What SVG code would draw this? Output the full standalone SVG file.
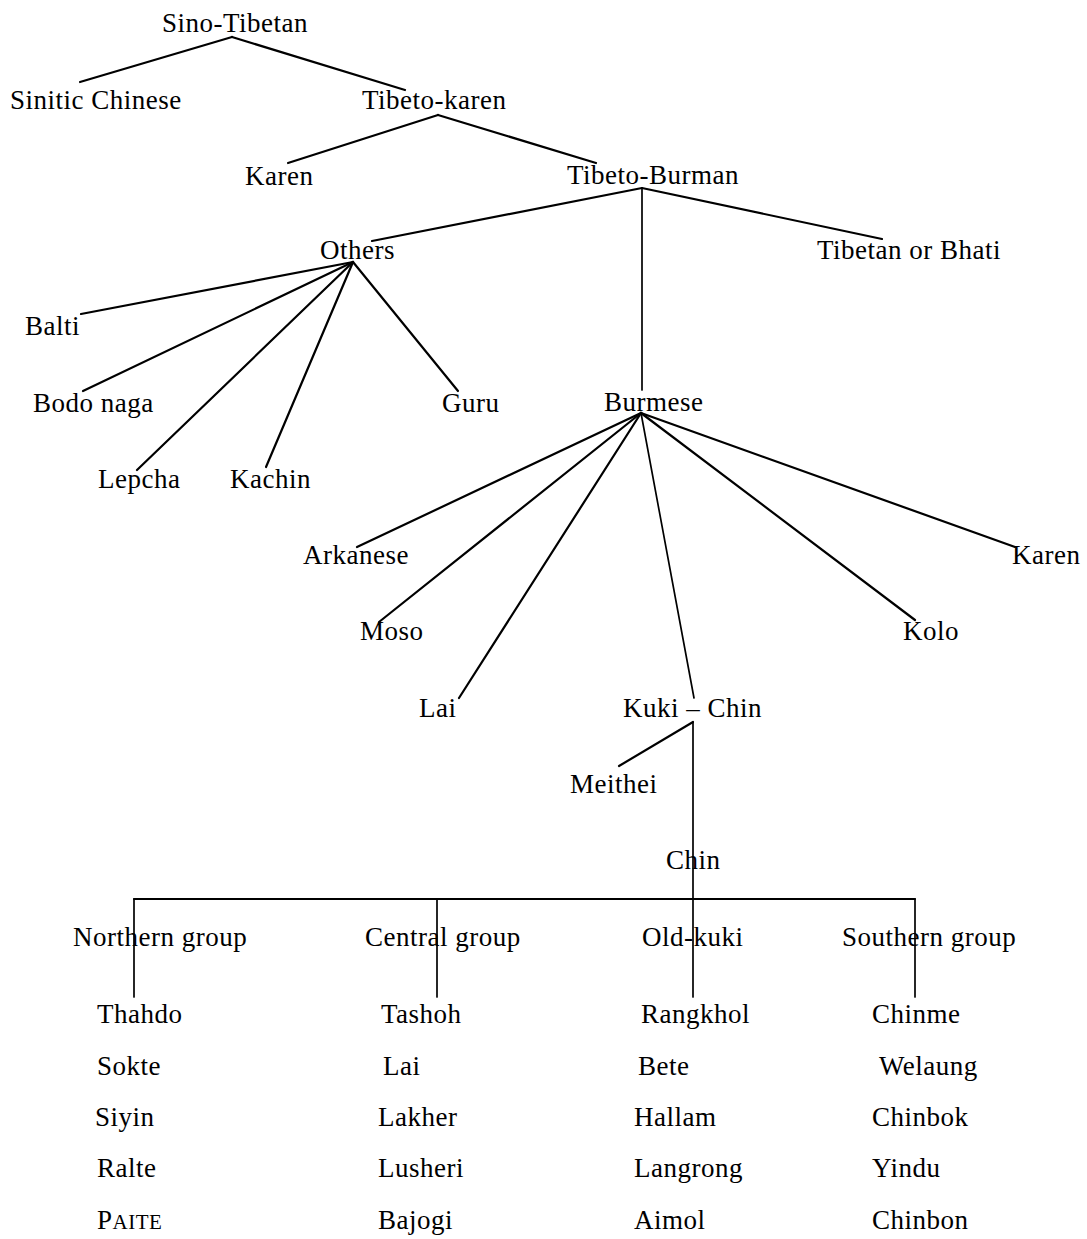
<svg xmlns="http://www.w3.org/2000/svg" width="1087" height="1239" viewBox="0 0 1087 1239">
<style>
text{font-family:"Liberation Serif","Times New Roman",serif;font-size:27px;letter-spacing:0.5px;fill:#000}
.c line{stroke:#000;stroke-width:2.2;stroke-linecap:round}
.c line.t{stroke-width:1.7}
</style>
<rect width="1087" height="1239" fill="#fff"/>
<g class="c" id="connectors">
<line x1="232" y1="37" x2="80" y2="82"/>
<line x1="232" y1="37" x2="405" y2="90"/>
<line x1="438" y1="115" x2="288" y2="163"/>
<line x1="438" y1="115" x2="596" y2="163"/>
<line x1="642" y1="188" x2="372" y2="241"/>
<line x1="642" y1="188" x2="882" y2="239"/>
<line class="t" x1="642" y1="188" x2="642" y2="390"/>
<line x1="353" y1="262" x2="81" y2="314"/>
<line x1="353" y1="262" x2="83" y2="391"/>
<line x1="353" y1="262" x2="137" y2="470"/>
<line x1="353" y1="262" x2="266" y2="467"/>
<line x1="353" y1="262" x2="458" y2="391"/>
<line x1="641" y1="413" x2="357" y2="547"/>
<line x1="641" y1="413" x2="379" y2="622"/>
<line x1="641" y1="413" x2="459" y2="698"/>
<line class="t" x1="641" y1="413" x2="694" y2="698"/>
<line x1="641" y1="413" x2="915" y2="620"/>
<line x1="641" y1="413" x2="1015" y2="547"/>
<line x1="693" y1="722" x2="619" y2="766"/>
<line class="t" x1="693" y1="722" x2="693" y2="997"/>
<line x1="134" y1="899" x2="915" y2="899"/>
<line class="t" x1="134" y1="899" x2="134" y2="997"/>
<line class="t" x1="437" y1="899" x2="437" y2="997"/>
<line class="t" x1="915" y1="899" x2="915" y2="997"/>
</g>
<g id="n-sino-tibetan"><text x="162" y="32">Sino-Tibetan</text></g>
<g id="n-sinitic"><text x="10" y="109">Sinitic Chinese</text></g>
<g id="n-tibeto-karen"><text x="362" y="109">Tibeto-karen</text></g>
<g id="n-karen1"><text x="245" y="185">Karen</text></g>
<g id="n-tibeto-burman"><text x="567" y="184">Tibeto-Burman</text></g>
<g id="n-others"><text x="320" y="259">Others</text></g>
<g id="n-tibetan"><text x="817" y="259">Tibetan or Bhati</text></g>
<g id="n-balti"><text x="25" y="335">Balti</text></g>
<g id="n-bodo"><text x="33" y="412">Bodo naga</text></g>
<g id="n-guru"><text x="442" y="412">Guru</text></g>
<g id="n-burmese"><text x="604" y="411">Burmese</text></g>
<g id="n-lepcha"><text x="98" y="488">Lepcha</text></g>
<g id="n-kachin"><text x="230" y="488">Kachin</text></g>
<g id="n-arkanese"><text x="303" y="564">Arkanese</text></g>
<g id="n-karen2"><text x="1012" y="564">Karen</text></g>
<g id="n-moso"><text x="360" y="640">Moso</text></g>
<g id="n-kolo"><text x="903" y="640">Kolo</text></g>
<g id="n-lai1"><text x="419" y="717">Lai</text></g>
<g id="n-kuki-chin"><text x="623" y="717">Kuki – Chin</text></g>
<g id="n-meithei"><text x="570" y="793">Meithei</text></g>
<g id="n-chin"><text x="666" y="869">Chin</text></g>
<g id="n-northern"><text x="73" y="946">Northern group</text></g>
<g id="n-central"><text x="365" y="946">Central group</text></g>
<g id="n-oldkuki"><text x="642" y="946">Old-kuki</text></g>
<g id="n-southern"><text x="842" y="946">Southern group</text></g>
<g id="col-northern">
<text x="97" y="1023">Thahdo</text>
<text x="97" y="1075">Sokte</text>
<text x="95" y="1126">Siyin</text>
<text x="97" y="1177">Ralte</text>
<text x="97" y="1229">P<tspan font-size="21">AITE</tspan></text>
</g>
<g id="col-central">
<text x="381" y="1023">Tashoh</text>
<text x="383" y="1075">Lai</text>
<text x="378" y="1126">Lakher</text>
<text x="378" y="1177">Lusheri</text>
<text x="378" y="1229">Bajogi</text>
</g>
<g id="col-oldkuki">
<text x="641" y="1023">Rangkhol</text>
<text x="638" y="1075">Bete</text>
<text x="634" y="1126">Hallam</text>
<text x="634" y="1177">Langrong</text>
<text x="634" y="1229">Aimol</text>
</g>
<g id="col-southern">
<text x="872" y="1023">Chinme</text>
<text x="879" y="1075">Welaung</text>
<text x="872" y="1126">Chinbok</text>
<text x="872" y="1177">Yindu</text>
<text x="872" y="1229">Chinbon</text>
</g>
</svg>
